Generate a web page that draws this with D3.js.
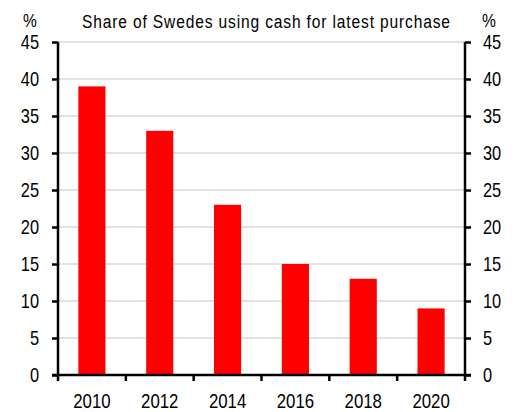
<!DOCTYPE html>
<html>
<head>
<meta charset="utf-8">
<script src="https://cdn.jsdelivr.net/npm/d3@7"></script>
<style>
  html, body { margin: 0; padding: 0; background: #fff; }
  text { font-family: "Liberation Sans", Arial, sans-serif; fill: #000; }
</style>
</head>
<body>
<svg id="chart" width="518" height="412"></svg>
<script>
const categories = ["2010", "2012", "2014", "2016", "2018", "2020"];
const cashShare = [39, 33, 23, 15, 13, 9];
const yTicks = [0, 5, 10, 15, 20, 25, 30, 35, 40, 45];
const titleText = "Share of Swedes using cash for latest purchase";
const unitLabel = "%";

const svg = d3.select("#chart");
const margin = { left: 58, right: 53, top: 42, bottom: 37 };
const W = 518, H = 412;
const x0 = margin.left, x1 = W - margin.right;
const y0 = H - margin.bottom, y1 = margin.top;
const SX = 0.82; // narrow font emulation

const x = d3.scaleBand().domain(categories).range([x0, x1]).paddingInner(0.6).paddingOuter(0.3);
const y = d3.scaleLinear().domain([0, 45]).range([y0, y1]);

function narrowText(g, px, py, str, size, anchor) {
  return g.append("text")
    .attr("transform", `translate(${px},${py}) scale(${SX},1)`)
    .attr("text-anchor", anchor || "start")
    .attr("font-size", size)
    .text(str);
}

// gridlines
svg.append("g").selectAll("line").data(yTicks.filter(d => d > 0)).join("line")
  .attr("x1", x0).attr("x2", x1)
  .attr("y1", d => y(d)).attr("y2", d => y(d))
  .attr("stroke", "#d9d9d9").attr("stroke-width", 1.5);

// bars
svg.append("g").selectAll("rect").data(categories).join("rect")
  .attr("x", d => x(d))
  .attr("width", x.bandwidth())
  .attr("y", (d, i) => y(cashShare[i]))
  .attr("height", (d, i) => y(0) - y(cashShare[i]))
  .attr("fill", "#ff0000");

const fontSize = "20px";

// left and right axes (lines + ticks via d3 axis, labels drawn narrow)
const leftAxis = svg.append("g").attr("transform", `translate(${x0},0)`)
  .call(d3.axisLeft(y).tickValues(yTicks).tickSize(6).tickFormat(""));
const rightAxis = svg.append("g").attr("transform", `translate(${x1},0)`)
  .call(d3.axisRight(y).tickValues(yTicks).tickSize(6).tickFormat(""));
[leftAxis, rightAxis].forEach(g => {
  g.select(".domain").attr("stroke", "#000").attr("stroke-width", 2.5)
    .attr("d", `M0,${y1}V${y0}`);
  g.selectAll(".tick line").attr("stroke", "#000").attr("stroke-width", 2.5);
});
const labels = svg.append("g");
yTicks.forEach(t => {
  narrowText(labels, x0 - 19, y(t) + 7, String(t), fontSize, "end");
  narrowText(labels, x1 + 18, y(t) + 7, String(t), fontSize, "start");
});

// bottom axis: ticks at band boundaries
const bottom = svg.append("g");
bottom.append("line").attr("x1", x0 - 6).attr("x2", x1 + 6).attr("y1", y0).attr("y2", y0)
  .attr("stroke", "#000").attr("stroke-width", 2.5);
const step = x.step();
const boundaries = categories.map(c => x(c) - (step - x.bandwidth()) / 2).concat([x1]);
bottom.selectAll("line.bt").data(boundaries).join("line").attr("class", "bt")
  .attr("x1", d => d).attr("x2", d => d).attr("y1", y0).attr("y2", y0 + 6)
  .attr("stroke", "#000").attr("stroke-width", 2.5);
categories.forEach(c => {
  narrowText(bottom, x(c) + x.bandwidth() / 2, y0 + 33, c, "20.5px", "middle");
});

// title
svg.append("text")
  .attr("transform", `translate(82,28) scale(${SX},1)`)
  .attr("font-size", "19px")
  .attr("textLength", 368 / SX).attr("lengthAdjust", "spacing")
  .text(titleText);

// unit labels
narrowText(svg, 30, 27, unitLabel, "19px", "middle");
narrowText(svg, 489, 27, unitLabel, "19px", "middle");
</script>
</body>
</html>
